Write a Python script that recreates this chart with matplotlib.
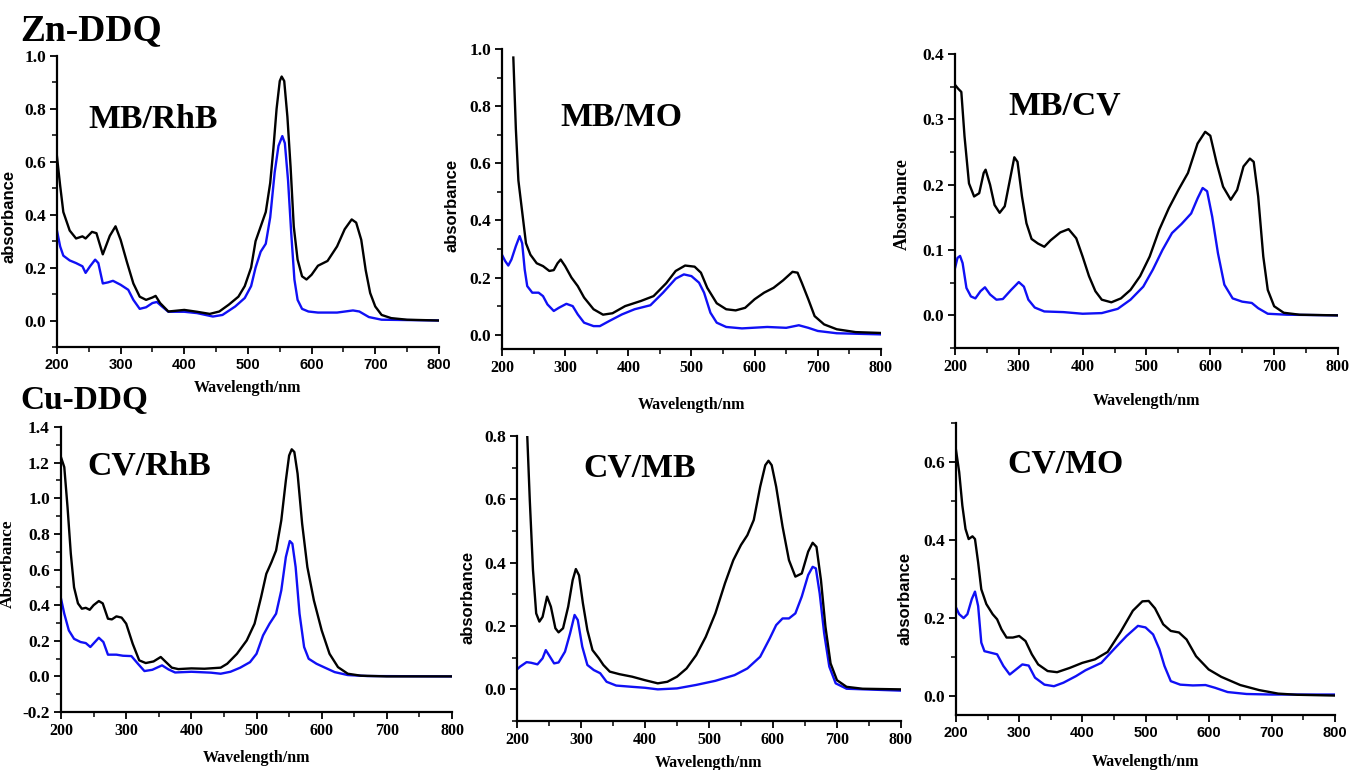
import numpy as np
import matplotlib.pyplot as plt
from matplotlib.ticker import MultipleLocator

# UV-vis spectra, (wavelength nm, absorbance); black = mixture, blue = after adsorption
mb_rhb_black = [(200, 0.62), (205, 0.51), (210, 0.41), (220, 0.34), (230, 0.31), (240, 0.318),
                (245, 0.31), (255, 0.335), (262, 0.33), (272, 0.25), (283, 0.32), (292, 0.356),
                (300, 0.305), (310, 0.22), (320, 0.14), (330, 0.09), (340, 0.078), (350, 0.087),
                (355, 0.093), (362, 0.066), (375, 0.034), (400, 0.04), (420, 0.033), (440, 0.025),
                (455, 0.034), (470, 0.06), (485, 0.09), (495, 0.13), (505, 0.2), (512, 0.3),
                (520, 0.355), (528, 0.41), (535, 0.52), (540, 0.65), (545, 0.8), (550, 0.905),
                (553, 0.922), (557, 0.905), (562, 0.77), (567, 0.58), (572, 0.355), (578, 0.23),
                (585, 0.167), (592, 0.155), (600, 0.173), (610, 0.207), (625, 0.225), (640, 0.28),
                (652, 0.345), (663, 0.382), (670, 0.37), (678, 0.305), (685, 0.19), (692, 0.104),
                (700, 0.053), (710, 0.021), (725, 0.009), (750, 0.003), (800, 0.0)]
mb_rhb_blue = [(200, 0.34), (205, 0.28), (210, 0.245), (220, 0.227), (230, 0.217), (240, 0.205),
               (245, 0.18), (252, 0.205), (260, 0.23), (265, 0.217), (272, 0.14), (280, 0.144),
               (288, 0.15), (300, 0.135), (312, 0.116), (320, 0.078), (330, 0.044), (340, 0.05),
               (350, 0.066), (357, 0.07), (365, 0.053), (375, 0.033), (400, 0.033), (420, 0.028),
               (445, 0.015), (460, 0.021), (480, 0.053), (495, 0.085), (505, 0.13), (512, 0.2),
               (520, 0.26), (528, 0.29), (535, 0.39), (542, 0.56), (548, 0.66), (554, 0.697),
               (558, 0.67), (563, 0.53), (568, 0.33), (573, 0.155), (578, 0.078), (585, 0.044),
               (595, 0.034), (610, 0.03), (640, 0.03), (665, 0.038), (675, 0.034), (690, 0.013),
               (710, 0.003), (800, 0.0)]

mb_mo_black = [(218, 0.97), (222, 0.72), (226, 0.54), (232, 0.43), (238, 0.32), (245, 0.28),
               (255, 0.25), (265, 0.24), (275, 0.223), (282, 0.226), (288, 0.25), (293, 0.263),
               (300, 0.24), (310, 0.2), (320, 0.17), (330, 0.13), (345, 0.089), (360, 0.07),
               (375, 0.075), (395, 0.1), (420, 0.118), (440, 0.135), (460, 0.18), (475, 0.223),
               (490, 0.242), (505, 0.238), (515, 0.217), (525, 0.164), (540, 0.11), (555, 0.089),
               (570, 0.085), (585, 0.094), (600, 0.124), (615, 0.147), (630, 0.164), (645, 0.19),
               (660, 0.22), (668, 0.217), (675, 0.18), (685, 0.124), (695, 0.065), (710, 0.036),
               (730, 0.019), (760, 0.009), (800, 0.006)]
mb_mo_blue = [(200, 0.28), (205, 0.258), (210, 0.242), (215, 0.263), (222, 0.31), (228, 0.345),
              (232, 0.32), (236, 0.228), (240, 0.17), (248, 0.147), (258, 0.147), (265, 0.135),
              (272, 0.106), (282, 0.083), (290, 0.094), (302, 0.108), (312, 0.1), (320, 0.071),
              (330, 0.042), (345, 0.03), (355, 0.03), (370, 0.048), (390, 0.071), (410, 0.089),
              (435, 0.103), (455, 0.147), (475, 0.196), (488, 0.211), (500, 0.205), (512, 0.182),
              (520, 0.147), (530, 0.077), (540, 0.042), (555, 0.027), (580, 0.022), (620, 0.027),
              (650, 0.024), (670, 0.033), (685, 0.024), (700, 0.013), (730, 0.005), (800, 0.001)]

mb_cv_black = [(200, 0.353), (205, 0.347), (210, 0.342), (215, 0.274), (222, 0.202), (230, 0.182),
               (238, 0.187), (245, 0.218), (248, 0.223), (255, 0.2), (262, 0.169), (270, 0.157),
               (278, 0.167), (287, 0.212), (293, 0.242), (298, 0.235), (305, 0.182), (312, 0.141),
               (320, 0.117), (330, 0.11), (340, 0.105), (350, 0.115), (365, 0.127), (378, 0.132),
               (390, 0.118), (400, 0.09), (410, 0.06), (420, 0.037), (430, 0.024), (445, 0.02),
               (460, 0.026), (475, 0.039), (490, 0.06), (505, 0.09), (520, 0.131), (535, 0.164),
               (550, 0.192), (565, 0.218), (580, 0.263), (592, 0.281), (600, 0.275), (610, 0.233),
               (620, 0.197), (632, 0.177), (642, 0.192), (652, 0.228), (662, 0.24), (668, 0.235),
               (675, 0.182), (683, 0.09), (690, 0.039), (700, 0.014), (715, 0.004), (740, 0.001),
               (800, 0.0)]
mb_cv_blue = [(200, 0.072), (204, 0.088), (208, 0.091), (212, 0.08), (218, 0.042), (225, 0.029),
              (232, 0.026), (240, 0.037), (247, 0.043), (255, 0.032), (265, 0.024), (275, 0.025),
              (288, 0.039), (300, 0.051), (308, 0.044), (315, 0.024), (325, 0.012), (340, 0.006),
              (370, 0.005), (400, 0.0025), (430, 0.0035), (455, 0.01), (475, 0.024), (495, 0.044),
              (510, 0.07), (525, 0.1), (540, 0.126), (555, 0.14), (570, 0.156), (580, 0.179),
              (588, 0.195), (595, 0.19), (603, 0.151), (612, 0.095), (622, 0.047), (635, 0.026),
              (650, 0.021), (665, 0.019), (675, 0.011), (690, 0.0025), (720, 0.001), (800, 0.0)]

cv_rhb_black = [(200, 1.23), (205, 1.175), (210, 0.95), (215, 0.69), (220, 0.5), (226, 0.41),
                (232, 0.38), (238, 0.385), (244, 0.374), (250, 0.4), (258, 0.423), (264, 0.41),
                (272, 0.324), (278, 0.32), (285, 0.337), (293, 0.33), (300, 0.296), (310, 0.183),
                (320, 0.09), (330, 0.075), (342, 0.084), (353, 0.109), (360, 0.084), (370, 0.049),
                (380, 0.041), (400, 0.045), (420, 0.043), (445, 0.049), (455, 0.071), (470, 0.127),
                (485, 0.202), (497, 0.296), (507, 0.445), (515, 0.576), (523, 0.642), (530, 0.707),
                (538, 0.876), (545, 1.1), (550, 1.24), (554, 1.275), (558, 1.26), (563, 1.138),
                (570, 0.857), (578, 0.614), (588, 0.427), (600, 0.258), (612, 0.127), (625, 0.052),
                (640, 0.015), (660, 0.004), (700, 0.0), (800, 0.0)]
cv_rhb_blue = [(200, 0.436), (205, 0.352), (212, 0.258), (220, 0.211), (230, 0.193), (238, 0.187),
               (245, 0.165), (252, 0.193), (258, 0.217), (265, 0.193), (272, 0.122), (285, 0.122),
               (295, 0.116), (308, 0.114), (318, 0.071), (328, 0.03), (340, 0.037), (355, 0.062),
               (365, 0.039), (375, 0.022), (400, 0.026), (430, 0.021), (445, 0.015), (460, 0.026),
               (475, 0.049), (490, 0.08), (500, 0.127), (510, 0.23), (520, 0.296), (530, 0.352),
               (538, 0.483), (545, 0.67), (551, 0.76), (555, 0.745), (560, 0.614), (566, 0.352),
               (573, 0.165), (580, 0.099), (592, 0.071), (605, 0.049), (620, 0.024), (640, 0.0075),
               (670, 0.002), (800, 0.0)]

cv_mb_black = [(216, 0.803), (220, 0.598), (225, 0.377), (230, 0.24), (235, 0.214), (240, 0.229),
               (247, 0.293), (253, 0.261), (260, 0.193), (265, 0.18), (272, 0.193), (280, 0.261),
               (287, 0.345), (292, 0.38), (297, 0.36), (303, 0.272), (310, 0.187), (318, 0.124),
               (328, 0.098), (335, 0.077), (345, 0.056), (360, 0.048), (380, 0.04), (400, 0.029),
               (420, 0.019), (435, 0.024), (450, 0.04), (465, 0.066), (480, 0.108), (495, 0.166),
               (510, 0.24), (525, 0.335), (538, 0.408), (550, 0.456), (560, 0.487), (570, 0.535),
               (580, 0.64), (588, 0.708), (593, 0.722), (598, 0.708), (605, 0.64), (615, 0.514),
               (625, 0.408), (635, 0.356), (645, 0.366), (655, 0.435), (662, 0.463), (668, 0.45),
               (675, 0.345), (682, 0.198), (690, 0.082), (700, 0.029), (715, 0.008), (740, 0.002),
               (800, 0.0)]
cv_mb_blue = [(200, 0.063), (205, 0.072), (215, 0.086), (222, 0.084), (232, 0.079), (240, 0.098),
              (245, 0.124), (250, 0.108), (258, 0.082), (265, 0.085), (275, 0.119), (283, 0.177),
              (290, 0.235), (295, 0.219), (302, 0.135), (310, 0.077), (320, 0.061), (330, 0.051),
              (340, 0.024), (355, 0.012), (380, 0.008), (400, 0.005), (420, 0.0), (450, 0.003),
              (480, 0.014), (510, 0.027), (540, 0.045), (560, 0.066), (580, 0.103), (595, 0.161),
              (605, 0.203), (615, 0.224), (625, 0.224), (635, 0.24), (645, 0.293), (655, 0.361),
              (662, 0.387), (667, 0.382), (673, 0.303), (680, 0.177), (688, 0.072), (698, 0.019),
              (715, 0.002), (800, -0.004)]

cv_mo_black = [(200, 0.63), (205, 0.574), (210, 0.488), (215, 0.428), (220, 0.402), (226, 0.409),
               (230, 0.402), (235, 0.342), (240, 0.273), (248, 0.235), (258, 0.209), (265, 0.196),
               (272, 0.17), (280, 0.149), (290, 0.149), (300, 0.153), (310, 0.14), (320, 0.106),
               (330, 0.08), (345, 0.063), (360, 0.06), (380, 0.071), (400, 0.084), (420, 0.093),
               (440, 0.112), (460, 0.162), (480, 0.218), (495, 0.242), (505, 0.243), (515, 0.224),
               (528, 0.183), (540, 0.166), (553, 0.162), (565, 0.144), (580, 0.101), (600, 0.067),
               (620, 0.048), (650, 0.027), (680, 0.014), (710, 0.005), (740, 0.002), (800, 0.0)]
cv_mo_blue = [(200, 0.226), (205, 0.209), (212, 0.199), (218, 0.209), (225, 0.248), (230, 0.267),
              (235, 0.23), (240, 0.136), (245, 0.114), (255, 0.11), (265, 0.106), (275, 0.076),
              (285, 0.054), (295, 0.067), (305, 0.08), (315, 0.077), (325, 0.046), (340, 0.028),
              (355, 0.024), (370, 0.033), (390, 0.05), (405, 0.065), (430, 0.084), (450, 0.119),
              (470, 0.153), (488, 0.179), (500, 0.175), (512, 0.157), (522, 0.119), (530, 0.076),
              (540, 0.037), (555, 0.028), (575, 0.026), (595, 0.027), (610, 0.02), (630, 0.009),
              (660, 0.004), (700, 0.0026), (800, 0.0026)]

SERIF = ['Liberation Serif', 'DejaVu Serif']
SANS = ['Liberation Sans', 'DejaVu Sans']

fig = plt.figure(figsize=(13.53, 7.70), dpi=100)

# rect, ylim, ytick step, curves, name, name pos, ylabel, ylabel font/size/pos, xtick font, xlabel offset
panels = [
    ([0.0421, 0.5494, 0.2823, 0.3780], (-0.1, 1.0), 0.2, mb_rhb_black, mb_rhb_blue,
     'MB/RhB', (249, 0.76), 'absorbance', SANS, 12, (-0.105, 0.45), SANS, -0.115),
    ([0.3710, 0.5468, 0.2801, 0.3896], (-0.05, 1.0), 0.2, mb_mo_black, mb_mo_blue,
     'MB/MO', (292, 0.76), 'absorbance', SANS, 12, (-0.113, 0.48), SERIF, -0.16),
    ([0.7058, 0.5480, 0.2831, 0.3818], (-0.05, 0.4), 0.1, mb_cv_black, mb_cv_blue,
     'MB/CV', (283, 0.32), 'Absorbance', SERIF, 13, (-0.115, 0.49), SERIF, -0.153),
    ([0.0451, 0.0753, 0.2890, 0.3701], (-0.2, 1.4), 0.2, cv_rhb_black, cv_rhb_blue,
     'CV/RhB', (241, 1.18), 'Absorbance', SERIF, 12.5, (-0.115, 0.52), SERIF, -0.135),
    ([0.3821, 0.0636, 0.2838, 0.3701], (-0.1, 0.8), 0.2, cv_mb_black, cv_mb_blue,
     'CV/MB', (303, 0.70), 'absorbance', SANS, 12, (-0.109, 0.435), SERIF, -0.12),
    ([0.7066, 0.0714, 0.2801, 0.3792], (-0.05, 0.7), 0.2, cv_mo_black, cv_mo_blue,
     'CV/MO', (281, 0.595), 'absorbance', SANS, 12, (-0.116, 0.40), SANS, -0.135),
]

for (rect, ylim, ystep, black, blue, name, name_xy,
     ylab, ylab_font, ylab_size, ylab_xy, xtick_font, xlab_y) in panels:
    ax = fig.add_axes(rect)
    bx, by = np.array(black).T
    ux, uy = np.array(blue).T
    ax.plot(bx, by, color='black', lw=1.7, zorder=3)
    ax.plot(ux, uy, color='#1010f5', lw=1.7, zorder=2)

    ax.set_xlim(200, 800)
    ax.set_ylim(*ylim)
    ax.xaxis.set_major_locator(MultipleLocator(100))
    ax.xaxis.set_minor_locator(MultipleLocator(50))
    ax.yaxis.set_major_locator(MultipleLocator(ystep))
    ax.yaxis.set_minor_locator(MultipleLocator(ystep / 2))
    ax.spines['top'].set_visible(False)
    ax.spines['right'].set_visible(False)
    for s in ('left', 'bottom'):
        ax.spines[s].set_linewidth(1.6)
    ax.tick_params(which='major', direction='out', length=5, width=1.3, pad=3)
    ax.tick_params(which='minor', direction='out', length=3.5, width=1.1)
    ax.yaxis.set_major_formatter(plt.FuncFormatter(lambda v, p: f'{v:.1f}'))

    for t in ax.get_yticklabels():
        t.set_fontfamily(SERIF)
        t.set_fontweight('bold')
        t.set_fontsize(12.5)
    for t in ax.get_xticklabels():
        t.set_fontfamily(xtick_font)
        t.set_fontweight('bold')
        t.set_fontsize(11.5 if xtick_font is SERIF else 10.5)

    ax.set_xlabel('Wavelength/nm', family=SERIF, weight='bold', fontsize=11.5)
    ax.xaxis.set_label_coords(0.5, xlab_y)
    ax.set_ylabel(ylab, family=ylab_font, weight='bold', fontsize=ylab_size)
    ax.yaxis.set_label_coords(*ylab_xy)

    ax.text(name_xy[0], name_xy[1], name, family=SERIF, weight='bold',
            fontsize=24.3, va='center', ha='left')

fig.text(0.015, 1 - 40 / 770, 'Zn-DDQ', family=SERIF, weight='bold', fontsize=27, va='baseline')
fig.text(0.015, 1 - 409 / 770, 'Cu-DDQ', family=SERIF, weight='bold', fontsize=24, va='baseline')

fig.savefig('out.png', dpi=100)
